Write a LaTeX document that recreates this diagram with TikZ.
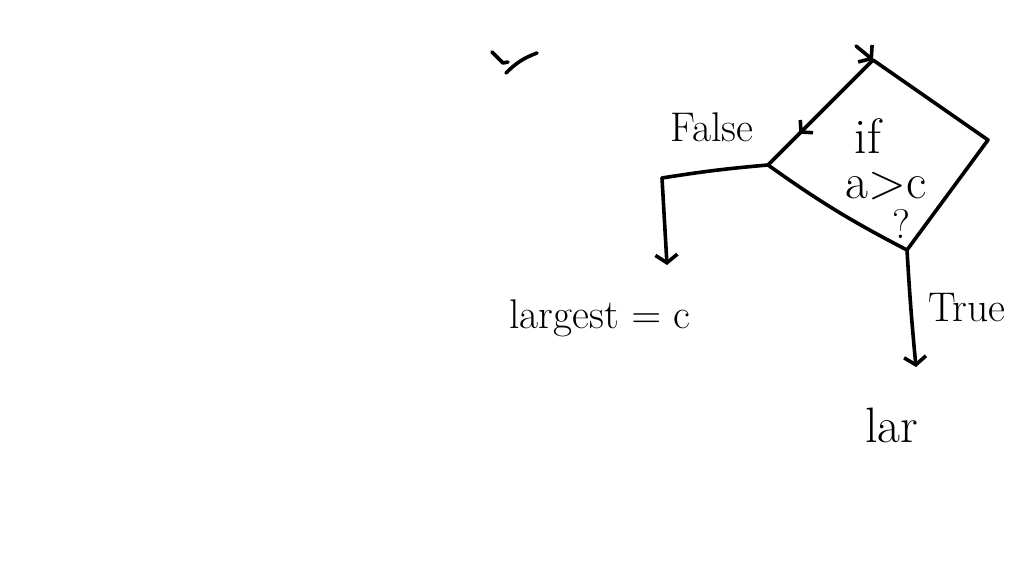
\documentclass[tikz,border=0pt]{standalone}
\usepackage{amsmath}
\usetikzlibrary{arrows.meta, positioning}

\begin{document}
\begin{tikzpicture}[x=0.5pt,y=-0.5pt]
\tikzset{
  arrow/.pic={\path[tips,every arrow/.try,->,>={#1}] (0.1,0) -- +(.1pt,0);},
  pics/arrow/.default={Straight Barb[length=4pt,width=9pt]},
  hand/.style={line width=1.8pt, line cap=round, line join=round},
  barb/.style={-{Straight Barb[length=4pt,width=11pt]}}
}
\useasboundingbox (0,0) rectangle (1024,576);

\coordinate (T) at (873,60);
\coordinate (R) at (988,140);
\coordinate (B) at (907,250);
\coordinate (L) at (768,165);

\coordinate (in) at (856,46);
\coordinate (bend) at (662,178);
\coordinate (falsetip) at (667,265);
\coordinate (truetip) at (916,367);

\begin{scope}[hand]
\draw (L) to[bend right=4] (B) -- (R) -- (T) -- pic[pos=.7,sloped,allow upside down]{arrow} (L) ;
\draw[barb] (in) -- (T) ;
\draw (L) to[bend right=2] (bend) ;
\draw[barb] (bend) -- (falsetip) ;
\draw[barb] (B) to[bend right=1] (truetip) ;

% leftover stroke, top left
\draw (492,52) -- (503,63) -- (508,62) ;
\draw (506,73) to[bend left=12] (537,53) ;
\end{scope}

\node[font=\Huge] (cif) at (868,136) {if};
\node[font=\Huge] (cgt) at (886,186) {a$>$c};
\node[font=\huge] (cq) at (901,224) {?};

\node[font=\huge] (false) at (712,127) {False};
\node[font=\huge] (true) at (967,308) {True};

\node[font=\huge] (largest) at (600,318) {largest $=$ c};
\node[font=\Huge] (lar) at (892,425) {lar};
\end{tikzpicture}
\end{document}
